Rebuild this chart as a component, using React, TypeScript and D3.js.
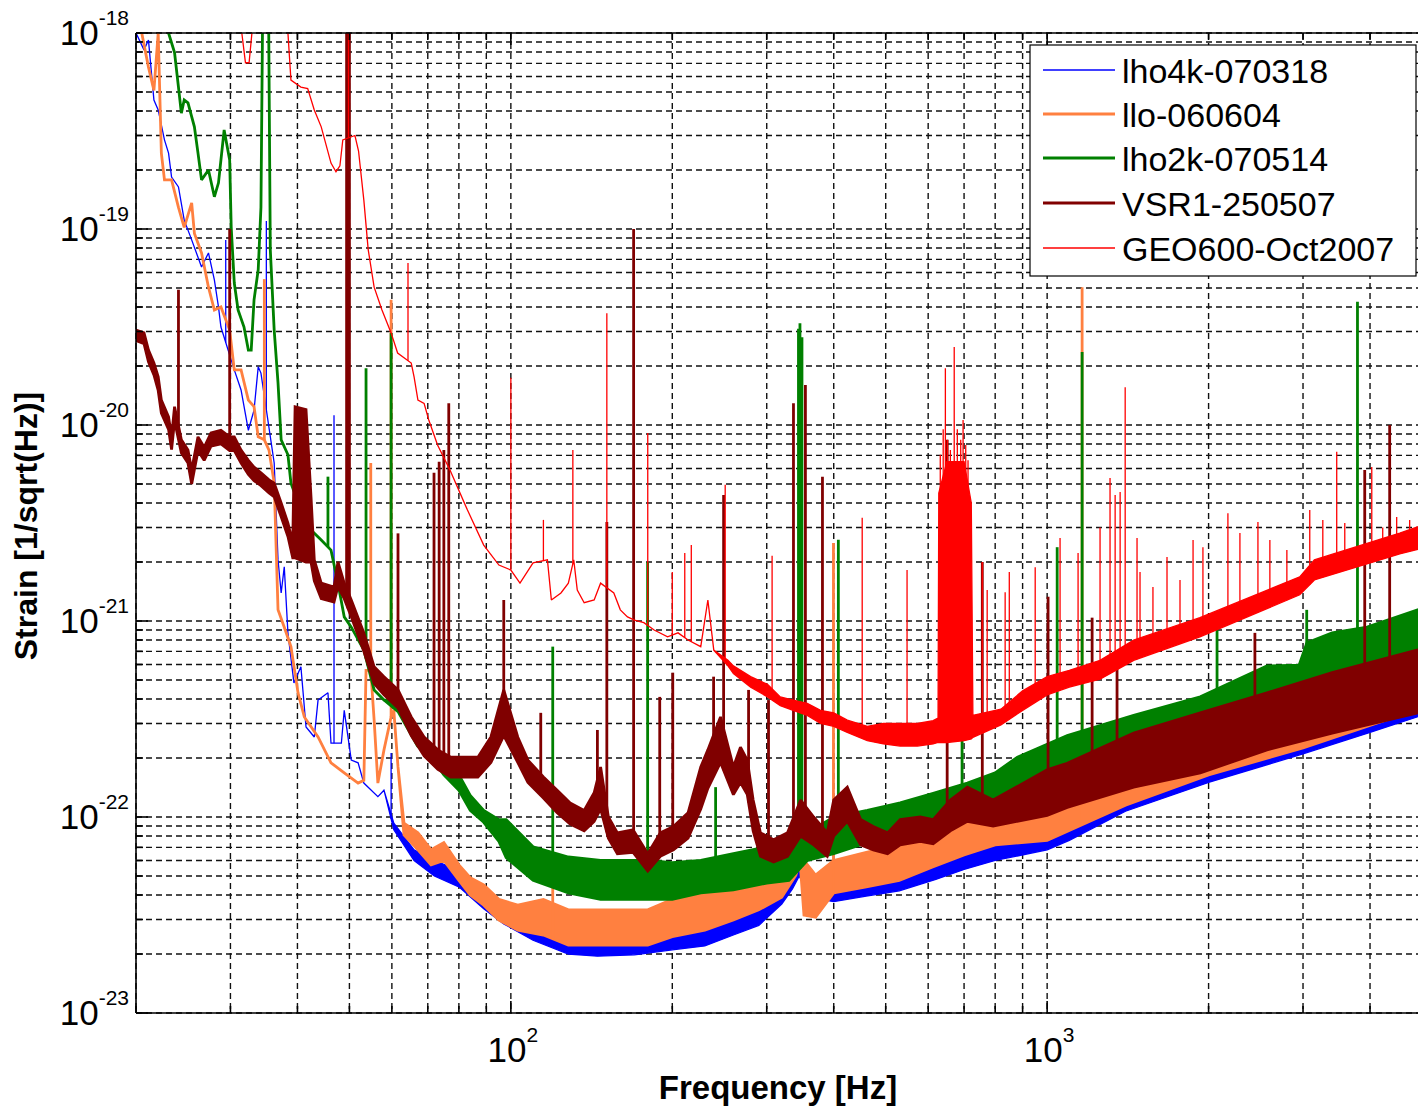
import React from "react";
import * as d3 from "d3";

type Band = [number, number, number][]; // [frequency Hz, upper strain, lower strain]
type Lines = [number, number][]; // [frequency Hz, peak strain]

const xLabelTicks = [100, 1000];
const yLabelExps = [-23, -22, -21, -20, -19, -18];
const legendLabels = ["lho4k-070318", "llo-060604", "lho2k-070514", "VSR1-250507", "GEO600-Oct2007"];
const xTitle = "Frequency [Hz]";
const yTitle = "Strain [1/sqrt(Hz)]";

// ---------- lho4k-070318 ----------
const lho4kBand: Band = [
  [20, 1.0e-18, 1.0e-18], [20.7, 8.2e-19, 8.2e-19], [21.1, 9.2e-19, 9.2e-19], [21.6, 4.55e-19, 4.55e-19],
  [22.0, 4.05e-19, 4.05e-19], [22.6, 2.85e-19, 2.85e-19], [23.0, 2.44e-19, 2.44e-19], [23.3, 1.84e-19, 1.84e-19],
  [24.0, 1.64e-19, 1.64e-19], [24.6, 1.11e-19, 1.11e-19], [25.4, 8.8e-20, 8.8e-20], [26.5, 6.4e-20, 6.4e-20],
  [27.3, 7.55e-20, 7.55e-20], [28.0, 5.5e-20, 5.5e-20], [28.5, 4.0e-20, 4.0e-20], [28.8, 3.16e-20, 3.16e-20],
  [30.5, 1.91e-20, 1.91e-20], [31.4, 1.51e-20, 1.51e-20], [32.4, 9.4e-21, 9.4e-21], [33.2, 1.19e-20, 1.19e-20],
  [33.8, 1.98e-20, 1.98e-20], [34.2, 1.84e-20, 1.84e-20], [36.2, 6.4e-21, 6.4e-21], [36.8, 2.05e-21, 2.05e-21],
  [37.3, 1.39e-21, 1.39e-21], [37.8, 1.89e-21, 1.89e-21], [38.4, 8.7e-22, 8.7e-22], [39.4, 4.83e-22, 4.83e-22],
  [40.6, 5.84e-22, 5.84e-22], [41.5, 2.88e-22, 2.88e-22], [43.0, 2.56e-22, 2.56e-22], [43.7, 3.95e-22, 3.95e-22],
  [45.6, 4.3e-22, 4.3e-22], [46.2, 2.38e-22, 2.38e-22], [48.3, 2.38e-22, 2.38e-22], [48.9, 3.5e-22, 3.5e-22],
  [50.4, 1.95e-22, 1.95e-22], [51.9, 1.89e-22, 1.89e-22], [53.2, 1.49e-22, 1.49e-22], [56.5, 1.27e-22, 1.27e-22],
  [58.0, 1.37e-22, 1.37e-22], [60.5, 9.3e-23, 8.6e-23], [66, 6.8e-23, 6.0e-23], [72, 6.0e-23, 5.0e-23],
  [80, 5.35e-23, 4.4e-23], [89, 4.0e-23, 3.4e-23], [97, 3.55e-23, 2.85e-23], [110, 2.98e-23, 2.35e-23],
  [128, 2.65e-23, 2.0e-23], [145, 2.5e-23, 1.95e-23], [170, 2.5e-23, 1.98e-23], [200, 2.65e-23, 2.1e-23],
  [230, 2.8e-23, 2.2e-23], [260, 3.16e-23, 2.5e-23], [290, 3.55e-23, 2.8e-23], [320, 4.75e-23, 3.6e-23],
  [335, 5.7e-23, 4.3e-23], [345, 6.4e-23, 5.0e-23], [360, 4.75e-23, 3.9e-23], [400, 4.75e-23, 3.7e-23],
  [460, 4.9e-23, 3.95e-23], [530, 5.35e-23, 4.2e-23], [620, 6.2e-23, 4.8e-23], [700, 6.8e-23, 5.4e-23],
  [800, 7.4e-23, 6.0e-23], [1000, 8.4e-23, 6.8e-23], [1100, 9.1e-23, 7.6e-23], [1400, 1.29e-22, 1.07e-22],
  [2000, 1.8e-22, 1.5e-22], [3000, 2.47e-22, 2.1e-22], [4000, 3.2e-22, 2.7e-22], [5000, 3.95e-22, 3.3e-22],
];
const lho4kLines: Lines = [[29.4, 8.8e-20], [35.0, 1.1e-19], [46.8, 1.12e-20], [59.8, 2.12e-22]];

// ---------- llo-060604 ----------
const lloBand: Band = [
  [20, 1.2e-18, 1.2e-18], [20.5, 1.0e-18, 1.0e-18], [21.1, 6.7e-19, 6.7e-19], [21.6, 5.1e-19, 5.1e-19],
  [22.0, 1.0e-18, 1.0e-18], [22.3, 2.44e-19, 2.44e-19], [22.6, 1.78e-19, 1.78e-19], [23.3, 1.78e-19, 1.78e-19],
  [24.0, 1.29e-19, 1.29e-19], [24.6, 1.02e-19, 1.02e-19], [25.4, 1.36e-19, 1.36e-19], [25.7, 9.5e-20, 9.5e-20],
  [26.5, 7.55e-20, 7.55e-20], [27.3, 5.05e-20, 5.05e-20], [28.0, 3.86e-20, 3.86e-20], [28.8, 4.0e-20, 4.0e-20],
  [29.9, 3.05e-20, 3.05e-20], [30.5, 1.91e-20, 1.91e-20], [31.4, 1.91e-20, 1.91e-20], [32.4, 1.34e-20, 1.34e-20],
  [33.2, 1.24e-20, 1.24e-20], [33.8, 8.7e-21, 8.7e-21], [34.7, 8.4e-21, 8.4e-21], [35.4, 7.45e-21, 7.45e-21],
  [36.2, 5.05e-21, 5.05e-21], [36.8, 1.14e-21, 1.14e-21], [37.8, 9.3e-22, 9.3e-22], [38.9, 7.4e-22, 7.4e-22],
  [40.1, 4.3e-22, 4.3e-22], [41.2, 3.24e-22, 3.24e-22], [43.7, 2.56e-22, 2.56e-22], [46.2, 1.89e-22, 1.89e-22],
  [48.9, 1.68e-22, 1.68e-22], [51.9, 1.49e-22, 1.49e-22], [53.2, 1.54e-22, 1.54e-22], [53.7, 5.6e-22, 5.6e-22],
  [54.8, 5.6e-22, 5.6e-22], [55.6, 3.12e-22, 3.12e-22], [56.5, 1.49e-22, 1.49e-22], [58.0, 2.2e-22, 2.2e-22],
  [59.8, 3.24e-22, 3.24e-22], [60.5, 3.5e-22, 3.5e-22], [61.6, 1.8e-22, 1.8e-22], [63.2, 9.3e-23, 8.1e-23],
  [67.1, 8.3e-23, 6.8e-23], [71, 6.8e-23, 5.7e-23], [75, 7.4e-23, 6.0e-23], [80, 5.7e-23, 4.75e-23],
  [84, 4.9e-23, 4.0e-23], [89, 4.5e-23, 3.55e-23], [95, 3.8e-23, 2.98e-23], [103, 3.55e-23, 2.65e-23],
  [115, 3.8e-23, 2.5e-23], [128, 3.36e-23, 2.22e-23], [150, 3.36e-23, 2.22e-23], [180, 3.36e-23, 2.22e-23],
  [200, 3.8e-23, 2.45e-23], [230, 4.1e-23, 2.65e-23], [260, 4.25e-23, 2.98e-23], [290, 4.75e-23, 3.36e-23],
  [320, 6.0e-23, 3.9e-23], [340, 7.6e-23, 5.05e-23], [346, 8.6e-23, 6.0e-23], [352, 6.0e-23, 3.16e-23],
  [370, 5.05e-23, 3.08e-23], [400, 6.0e-23, 4.1e-23], [460, 6.6e-23, 4.4e-23], [530, 7.2e-23, 4.75e-23],
  [610, 8.1e-23, 5.55e-23], [700, 9.4e-23, 6.4e-23], [800, 1.0e-22, 7.2e-23], [1000, 1.05e-22, 7.6e-23],
  [1400, 1.42e-22, 1.15e-22], [2000, 2.02e-22, 1.64e-22], [3000, 2.8e-22, 2.25e-22], [5000, 4.5e-22, 3.6e-22],
];
const lloLines: Lines = [[34.7, 5.55e-20], [54.8, 6.4e-21], [59.8, 4.35e-20], [119.7, 5.2e-23], [399.5, 2.5e-21], [1162, 5.05e-20]];

// ---------- lho2k-070514 ----------
const lho2kBand: Band = [
  [20, 2e-18, 2e-18], [23.0, 1.0e-18, 1.0e-18], [23.6, 7.95e-19, 7.95e-19], [24.0, 5.3e-19, 5.3e-19],
  [24.3, 3.9e-19, 3.9e-19], [24.6, 4.55e-19, 4.55e-19], [25.0, 4.4e-19, 4.4e-19], [25.7, 3.32e-19, 3.32e-19],
  [26.1, 2.44e-19, 2.44e-19], [26.5, 1.78e-19, 1.78e-19], [27.3, 2.0e-19, 2.0e-19], [28.0, 1.46e-19, 1.46e-19],
  [28.5, 1.72e-19, 1.72e-19], [29.2, 3.2e-19, 3.2e-19], [29.9, 2.25e-19, 2.25e-19], [30.1, 1.02e-19, 1.02e-19],
  [30.5, 5.3e-20, 5.3e-20], [31.0, 3.86e-20, 3.86e-20], [31.8, 3.16e-20, 3.16e-20], [32.4, 2.41e-20, 2.41e-20],
  [32.8, 2.41e-20, 2.41e-20], [33.2, 4.35e-20, 4.35e-20], [33.8, 6.2e-20, 6.2e-20], [34.2, 1.29e-19, 1.29e-19],
  [34.5, 2e-18, 2e-18], [35.3, 2e-18, 2e-18], [35.6, 7.85e-20, 7.85e-20], [36.2, 3.05e-20, 3.05e-20],
  [36.8, 1.64e-20, 1.64e-20], [37.3, 8.4e-21, 8.4e-21], [38.4, 7.05e-21, 7.05e-21], [38.9, 5.05e-21, 5.05e-21],
  [40.6, 3.68e-21, 3.68e-21], [42.4, 2.91e-21, 2.91e-21], [44.3, 2.59e-21, 2.59e-21], [46.2, 2.3e-21, 2.3e-21],
  [47.6, 1.56e-21, 1.56e-21], [48.9, 1.05e-21, 1.05e-21], [50.4, 9.3e-22, 9.3e-22], [53.2, 7.1e-22, 7.1e-22],
  [55.6, 4.45e-22, 4.45e-22], [58, 3.95e-22, 3.95e-22], [61.6, 3.95e-22, 3.45e-22], [67, 2.75e-22, 2.3e-22],
  [71, 2.3e-22, 2.02e-22], [75, 2.02e-22, 1.64e-22], [80, 1.64e-22, 1.37e-22], [84, 1.29e-22, 1.08e-22],
  [89, 1.08e-22, 9.4e-23], [95, 9.7e-23, 7.5e-23], [98, 9.7e-23, 6.2e-23], [110, 7.05e-23, 4.75e-23],
  [128, 6.25e-23, 4.1e-23], [147, 6.0e-23, 3.8e-23], [180, 6.0e-23, 3.8e-23], [200, 5.85e-23, 3.8e-23],
  [226, 6.0e-23, 4.1e-23], [260, 6.5e-23, 4.25e-23], [300, 7.05e-23, 4.6e-23], [330, 7.2e-23, 4.75e-23],
  [357, 8.3e-23, 6.0e-23], [400, 1.0e-22, 6.5e-23], [462, 1.08e-22, 7.4e-23], [532, 1.18e-22, 7.95e-23],
  [613, 1.32e-22, 8.95e-23], [710, 1.49e-22, 1.0e-22], [800, 1.68e-22, 1.08e-22], [880, 2.02e-22, 1.37e-22],
  [1090, 2.6e-22, 1.55e-22], [1450, 3.3e-22, 1.84e-22], [1930, 4.1e-22, 2.3e-22], [2570, 5.9e-22, 2.91e-22],
  [2950, 5.95e-22, 3.2e-22], [3050, 7.75e-22, 3.5e-22], [3400, 8.7e-22, 3.95e-22], [3950, 9.3e-22, 4.2e-22],
  [5000, 1.16e-21, 5.05e-22],
];
const lho2kLines: Lines = [
  [45.6, 5.45e-21], [53.7, 1.95e-20], [59.8, 2.95e-20], [119.7, 7.4e-22], [179.9, 2.0e-21], [240.9, 1.42e-22],
  [343.8, 3.1e-20], [346, 3.3e-20], [349, 2.8e-20], [408, 2.6e-21], [694, 4.85e-21], [1044, 2.38e-21],
  [1162, 2.36e-20], [2074, 9.8e-22], [3048, 1.14e-21], [3790, 4.25e-20],
];

// ---------- VSR1-250507 ----------
const vsr1Band: Band = [
  [20, 3.05e-20, 2.7e-20], [20.7, 2.95e-20, 2.6e-20], [21.1, 2.41e-20, 2.1e-20], [21.6, 2.07e-20, 1.8e-20],
  [22.0, 1.76e-20, 1.5e-20], [22.3, 1.34e-20, 1.15e-20], [23.0, 1.1e-20, 9.5e-21], [23.3, 8.7e-21, 7.5e-21],
  [23.6, 1.24e-20, 1.05e-20], [24.3, 8.4e-21, 7.2e-21], [25.0, 7.45e-21, 6.4e-21], [25.4, 5.9e-21, 5.0e-21],
  [26.1, 8.7e-21, 7.4e-21], [26.8, 7.7e-21, 6.6e-21], [27.6, 9.1e-21, 7.8e-21], [28.8, 9.4e-21, 8.0e-21],
  [29.9, 8.7e-21, 7.4e-21], [30.5, 8.7e-21, 7.4e-21], [31.4, 7.45e-21, 6.4e-21], [32.4, 6.6e-21, 5.6e-21],
  [33.2, 6.1e-21, 5.2e-21], [34.2, 5.7e-21, 4.9e-21], [35.4, 5.25e-21, 4.5e-21], [36.2, 5.05e-21, 4.3e-21],
  [37.3, 4.0e-21, 3.4e-21], [38.4, 3.16e-21, 2.7e-21], [39.2, 2.5e-21, 2.1e-21], [39.6, 1.24e-20, 2.1e-21],
  [41.5, 1.2e-20, 2.0e-21], [42.4, 4.3e-21, 2.0e-21], [43.0, 2.05e-21, 1.6e-21], [44.3, 1.56e-21, 1.3e-21],
  [46.8, 1.49e-21, 1.25e-21], [47.6, 2.0e-21, 1.5e-21], [48.9, 1.56e-21, 1.3e-21], [50.4, 1.28e-21, 1.05e-21],
  [53.2, 8.7e-22, 7.0e-22], [55.6, 5.84e-22, 4.8e-22], [58, 5.2e-22, 4.2e-22], [61.6, 4.45e-22, 3.6e-22],
  [65.2, 3.24e-22, 2.6e-22], [68.9, 2.56e-22, 2.05e-22], [73.1, 2.2e-22, 1.75e-22], [77.3, 2.02e-22, 1.6e-22],
  [81.8, 2.02e-22, 1.6e-22], [86.8, 2.02e-22, 1.6e-22], [91.8, 2.56e-22, 1.9e-22], [97, 4.45e-22, 2.6e-22],
  [103, 2.56e-22, 1.9e-22], [107.6, 1.95e-22, 1.5e-22], [115, 1.6e-22, 1.25e-22], [122, 1.37e-22, 1.05e-22],
  [129, 1.18e-22, 9.2e-23], [137, 1.08e-22, 8.5e-23], [143, 1.33e-22, 9.5e-23], [147, 1.8e-22, 1.1e-22],
  [152, 1.0e-22, 7.8e-23], [158, 8.3e-23, 6.5e-23], [169, 8.6e-23, 6.6e-23], [180, 6.5e-23, 5.3e-23],
  [190, 8.3e-23, 6.3e-23], [201, 8.95e-23, 6.8e-23], [214, 1.05e-22, 7.8e-23], [226, 1.8e-22, 1.1e-22],
  [233, 2.2e-22, 1.4e-22], [246, 3.24e-22, 1.9e-22], [260, 1.8e-22, 1.3e-22], [268, 2.27e-22, 1.5e-22],
  [276, 1.95e-22, 1.3e-22], [283, 1.22e-22, 8.5e-23], [292, 8.3e-23, 6.3e-23], [309, 7.65e-23, 5.9e-23],
  [328, 8.3e-23, 6.3e-23], [347, 1.22e-22, 8.0e-23], [367, 1.0e-22, 7.2e-23], [389, 8.3e-23, 6.3e-23],
  [400, 1.22e-22, 8.0e-23], [424, 1.42e-22, 9.5e-23], [449, 9.7e-23, 7.2e-23], [474, 8.95e-23, 6.8e-23],
  [504, 8.3e-23, 6.5e-23], [532, 9.7e-23, 7.2e-23], [580, 1.0e-22, 7.5e-23], [613, 9.7e-23, 7.3e-23],
  [660, 1.22e-22, 8.5e-23], [710, 1.42e-22, 9.5e-23], [793, 1.22e-22, 9.0e-23], [1000, 1.74e-22, 1.02e-22],
  [1090, 1.88e-22, 1.12e-22], [1450, 2.68e-22, 1.42e-22], [1930, 3.4e-22, 1.68e-22], [2570, 4.3e-22, 2.2e-22],
  [3400, 5.45e-22, 2.68e-22], [4890, 7.1e-22, 3.39e-22], [5000, 7.2e-22, 3.45e-22],
];
const vsr1Lines: Lines = [
  [24.0, 4.9e-20], [29.9, 1.0e-19], [49.4, 2e-18], [49.7, 2e-18], [50.0, 2e-18], [61.6, 2.8e-21],
  [71.9, 5.7e-21], [73.5, 6.5e-21], [75.0, 7.45e-21], [76.6, 1.29e-20], [97, 1.28e-21], [113.7, 3.4e-22],
  [145, 2.78e-22], [151, 3.2e-21], [169.4, 1.0e-19], [189.5, 4.1e-22], [200.4, 5.45e-22], [238.8, 5.2e-22],
  [249.3, 4.4e-21], [277.5, 4.45e-22], [302.3, 3.95e-22], [336.5, 1.29e-20], [354.2, 1.6e-20],
  [381.1, 5.45e-21], [651, 8.4e-21], [757, 2.0e-21], [1004, 1.33e-21], [1213, 1.04e-21], [1350, 6.1e-22],
  [2440, 8.7e-22], [3910, 5.9e-21], [4352, 1.0e-20],
];

// ---------- GEO600-Oct2007 ----------
const geoBand: Band = [
  [30, 2e-18, 2e-18], [31.2, 1.2e-18, 1.2e-18], [31.5, 1.0e-18, 1.0e-18], [32.0, 7.05e-19, 7.05e-19],
  [32.5, 7.05e-19, 7.05e-19], [32.9, 1.0e-18, 1.0e-18], [33.3, 2e-18, 2e-18], [37.8, 2e-18, 2e-18],
  [38.4, 1.0e-18, 1.0e-18], [38.9, 5.75e-19, 5.75e-19], [40.6, 5.3e-19, 5.3e-19], [41.8, 5.2e-19, 5.2e-19],
  [43.0, 4.05e-19, 4.05e-19], [44.3, 3.32e-19, 3.32e-19], [46.2, 2.17e-19, 2.17e-19], [47.2, 1.96e-19, 1.96e-19],
  [48.0, 2.1e-19, 2.1e-19], [48.6, 2.85e-19, 2.85e-19], [51.2, 3.0e-19, 3.0e-19], [52.0, 2.5e-19, 2.5e-19],
  [53.2, 1.4e-19, 1.4e-19], [54.2, 7.85e-20, 7.85e-20], [55.6, 5.05e-20, 5.05e-20], [57.5, 3.86e-20, 3.86e-20],
  [59.8, 2.95e-20, 2.95e-20], [61.5, 2.33e-20, 2.33e-20], [65.2, 2.07e-20, 2.07e-20], [66.0, 1.76e-20, 1.76e-20],
  [67.1, 1.34e-20, 1.34e-20], [68.9, 1.29e-20, 1.29e-20], [70.3, 1.06e-20, 1.06e-20], [73, 7.9e-21, 7.9e-21],
  [77, 5.9e-21, 5.9e-21], [83, 3.68e-21, 3.68e-21], [89, 2.44e-21, 2.44e-21], [95, 1.93e-21, 1.93e-21],
  [100, 1.82e-21, 1.82e-21], [104, 1.56e-21, 1.56e-21], [110, 1.98e-21, 1.98e-21], [117, 2.05e-21, 2.05e-21],
  [119, 1.28e-21, 1.28e-21], [124, 1.39e-21, 1.39e-21], [128, 1.56e-21, 1.56e-21], [131, 2.05e-21, 2.05e-21],
  [133, 1.44e-21, 1.44e-21], [137, 1.24e-21, 1.24e-21], [143, 1.28e-21, 1.28e-21], [147, 1.56e-21, 1.56e-21],
  [155.6, 1.39e-21, 1.39e-21], [160, 1.14e-21, 1.14e-21], [165, 1.05e-21, 1.05e-21], [170, 1.01e-21, 1.01e-21],
  [177, 9.8e-22, 9.8e-22], [185, 9.0e-22, 9.0e-22], [196, 8.3e-22, 8.3e-22], [205, 8.7e-22, 8.7e-22],
  [214, 8.0e-22, 8.0e-22], [226, 7.4e-22, 7.4e-22], [233, 1.28e-21, 1.28e-21], [239, 7.1e-22, 7.1e-22],
  [254, 6.3e-22, 5.9e-22], [260, 5.9e-22, 5.4e-22], [280, 5.2e-22, 4.6e-22], [301, 4.75e-22, 4.1e-22],
  [318, 4.1e-22, 3.7e-22], [336, 3.95e-22, 3.5e-22], [357, 3.8e-22, 3.3e-22], [378, 3.5e-22, 3.0e-22],
  [400, 3.4e-22, 2.9e-22], [424, 3.12e-22, 2.7e-22], [462, 2.9e-22, 2.45e-22], [495, 3.0e-22, 2.36e-22],
  [532, 3.0e-22, 2.3e-22], [573, 3.0e-22, 2.3e-22], [613, 3.1e-22, 2.36e-22], [626, 3.2e-22, 2.4e-22],
  [628, 4.5e-21, 2.4e-22], [650, 6.5e-21, 2.4e-22], [700, 6.5e-21, 2.45e-22], [722, 4.0e-21, 2.5e-22],
  [727, 3.3e-22, 2.55e-22], [820, 3.55e-22, 2.95e-22],
  [900, 4.4e-22, 3.5e-22], [1000, 5.2e-22, 4.2e-22], [1100, 5.6e-22, 4.6e-22], [1255, 6.3e-22, 5.05e-22],
  [1450, 8.0e-22, 6.3e-22], [1927, 1.04e-21, 8.3e-22], [2958, 1.68e-21, 1.36e-21], [3150, 2.05e-21, 1.62e-21],
  [4545, 2.81e-21, 2.2e-21], [5000, 3.08e-21, 2.35e-21],
];
const geoLines: Lines = [
  [49.8, 2e-18], [64.3, 6.7e-20], [100, 1.74e-20], [115, 3.28e-21], [130.5, 7.45e-21], [151, 3.72e-20],
  [180, 9.1e-21], [200, 1.78e-21], [211, 2.22e-21], [217, 2.44e-21], [251, 4.95e-21], [307, 2.15e-21],
  [452, 3.36e-21], [548, 1.82e-21], [632, 7.05e-21], [640, 9.5e-21], [646, 1.95e-20], [652, 8.4e-21],
  [660, 7.45e-21], [671, 2.5e-20], [680, 9.5e-21], [690, 8.4e-21], [697, 1.06e-20], [705, 7.9e-21],
  [712, 6.6e-21], [757, 2.0e-21], [773, 1.44e-21], [835, 1.4e-21], [850, 1.78e-21], [950, 1.88e-21],
  [1057, 2.65e-21], [1142, 2.22e-21], [1255, 3.0e-21], [1310, 5.36e-21], [1339, 4.4e-21], [1368, 4.55e-21],
  [1398, 1.56e-20], [1471, 2.65e-21], [1490, 1.78e-21], [1575, 1.49e-21], [1673, 2.12e-21], [1769, 1.62e-21],
  [1871, 2.59e-21], [1952, 2.38e-21], [2173, 3.55e-21], [2288, 2.81e-21], [2472, 3.2e-21], [2602, 2.59e-21],
  [2799, 2.3e-21], [3088, 3.68e-21], [3266, 3.28e-21], [3467, 7.3e-21], [3589, 3.16e-21], [4030, 6.1e-21],
  [4224, 3.0e-21], [4485, 3.39e-21], [4742, 3.28e-21],
];

const FONT = "'Liberation Sans', Arial, Helvetica, sans-serif";

export default function App() {
  const W = 1418;
  const H = 1109;
  const left = 136;
  const top = 33;
  const bottom = 1013;

  const x = d3.scaleLog().domain([20, 5000]).range([left, 1422]);
  const y = d3.scaleLog().domain([1e-23, 1e-18]).range([bottom, top]);

  const line = d3.line<[number, number]>();
  const bandPath = (b: Band) => {
    const up: [number, number][] = b.map((d) => [x(d[0]), y(d[1])]);
    const lo: [number, number][] = b.map((d) => [x(d[0]), y(d[2])] as [number, number]).reverse();
    return (line([...up, ...lo]) || "") + "Z";
  };
  const lowerAt = (b: Band, f: number) => {
    for (let i = 0; i < b.length - 1; i++) {
      if (f >= b[i][0] && f <= b[i + 1][0]) {
        const t = (Math.log(f) - Math.log(b[i][0])) / (Math.log(b[i + 1][0]) - Math.log(b[i][0]));
        return Math.exp(Math.log(b[i][2]) + t * (Math.log(b[i + 1][2]) - Math.log(b[i][2])));
      }
    }
    return b[b.length - 1][2];
  };

  const series = [
    { band: lho4kBand, lines: lho4kLines, color: "#0000ff", width: 1.3 },
    { band: lloBand, lines: lloLines, color: "#ff8040", width: 2.8 },
    { band: lho2kBand, lines: lho2kLines, color: "#008000", width: 2.8 },
    { band: vsr1Band, lines: vsr1Lines, color: "#800000", width: 2.8 },
    { band: geoBand, lines: geoLines, color: "#ff0000", width: 1.3 },
  ];

  const xTicks = x.ticks();
  const yTicks = y.ticks();
  const isMajor = (v: number) => Math.abs(Math.log10(v) - Math.round(Math.log10(v))) < 1e-6;

  const legendRows = [70, 114, 158, 203, 248];

  return (
    <div style={{ position: "absolute", left: 0, top: 0 }}>
      <svg width={W} height={H} style={{ display: "block", background: "#fff" }}>
        <defs>
          <clipPath id="plotclip">
            <rect x={left} y={top} width={1422 - left} height={bottom - top} />
          </clipPath>
        </defs>
        <rect x={0} y={0} width={W} height={H} fill="#fff" />
        {/* grid */}
        <g stroke="#111" strokeWidth={1.4} strokeDasharray="6,4">
          {xTicks.map((t, i) => (
            <line key={"gx" + i} x1={x(t)} x2={x(t)} y1={top} y2={bottom} />
          ))}
          {yTicks.map((t, i) => (
            <line key={"gy" + i} x1={left} x2={W} y1={y(t)} y2={y(t)} />
          ))}
        </g>
        {/* data */}
        <g clipPath="url(#plotclip)">
          {series.map((s, si) => (
            <g key={"s" + si}>
              <path d={bandPath(s.band)} fill={s.color} stroke={s.color} strokeWidth={s.width} strokeLinejoin="miter" strokeMiterlimit={2} />
              {s.lines.map((l, li) => (
                <line
                  key={"l" + li}
                  x1={x(l[0])}
                  x2={x(l[0])}
                  y1={y(lowerAt(s.band, l[0]))}
                  y2={y(l[1])}
                  stroke={s.color}
                  strokeWidth={s.width}
                />
              ))}
            </g>
          ))}
        </g>
        {/* axes box */}
        <g stroke="#000" strokeWidth={1.6}>
          <line x1={left} x2={W} y1={top} y2={top} />
          <line x1={left} x2={W} y1={bottom} y2={bottom} />
          <line x1={left} x2={left} y1={top} y2={bottom} />
          {xTicks.map((t, i) => {
            const len = isMajor(t) ? 12 : 7;
            return (
              <g key={"tx" + i}>
                <line x1={x(t)} x2={x(t)} y1={bottom} y2={bottom - len} />
                <line x1={x(t)} x2={x(t)} y1={top} y2={top + len} />
              </g>
            );
          })}
          {yTicks.map((t, i) => {
            const len = isMajor(t) ? 12 : 7;
            return <line key={"ty" + i} x1={left} x2={left + len} y1={y(t)} y2={y(t)} />;
          })}
        </g>
        {/* tick labels */}
        <g fontFamily={FONT} fill="#000">
          {yLabelExps.map((e) => (
            <text key={"yl" + e} x={129} y={y(Math.pow(10, e)) + 12} textAnchor="end" fontSize={35}>
              10
              <tspan fontSize={21} dy={-20}>
                {String(e)}
              </tspan>
            </text>
          ))}
          {xLabelTicks.map((v) => (
            <text key={"xl" + v} x={x(v) + 2} y={1062} textAnchor="middle" fontSize={35}>
              10
              <tspan fontSize={21} dy={-20}>
                {String(Math.round(Math.log10(v)))}
              </tspan>
            </text>
          ))}
          <text x={778} y={1099} textAnchor="middle" fontSize={33} fontWeight="bold">
            {xTitle}
          </text>
          <text
            transform={`translate(37,526) rotate(-90)`}
            textAnchor="middle"
            fontSize={32}
            fontWeight="bold"
          >
            {yTitle}
          </text>
        </g>
        {/* legend */}
        <g>
          <rect x={1030} y={45} width={386} height={231} fill="#fff" stroke="#000" strokeWidth={1.2} />
          {series.map((s, i) => (
            <g key={"lg" + i}>
              <line x1={1043} x2={1115} y1={legendRows[i]} y2={legendRows[i]} stroke={s.color} strokeWidth={s.width} />
              <text x={1122} y={legendRows[i] + 13} fontFamily={FONT} fontSize={34} fill="#000">
                {legendLabels[i]}
              </text>
            </g>
          ))}
        </g>
      </svg>
    </div>
  );
}
